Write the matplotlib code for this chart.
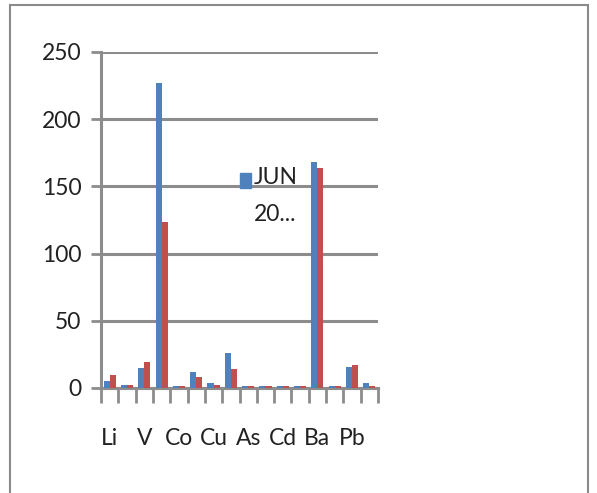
import numpy as np
import matplotlib.pyplot as plt
from matplotlib.patches import Rectangle

plt.rcParams['font.family'] = ['Lato', 'DejaVu Sans']

# elements along the x axis (only every other one is labelled in the chart)
elements = ['Li', 'Be', 'V', 'Cr', 'Co', 'Ni', 'Cu', 'Zn',
            'As', 'Se', 'Cd', 'Sb', 'Ba', 'Tl', 'Pb', 'U']
jun = [5.4, 2, 14.6, 227, 1.5, 12, 3.5, 25.8, 1.5, 1.5, 1.5, 1.5, 168, 1.5, 15.8, 3.5]
other = [9.6, 2, 19.5, 123.5, 1.5, 8.4, 2, 13.9, 1.5, 1.5, 1.5, 1.5, 163.5, 1.5, 17, 1.5]
legend_label = 'JUN\n20...'

blue = '#4F81BD'
red = '#C0504D'
grey = '#8C8C8C'

fig = plt.figure(figsize=(5.97, 4.93), dpi=100)
# outer chart border
fig.patches.append(Rectangle((10 / 597, -0.05), 578 / 597, 1 - 5 / 493 + 0.05,
                             transform=fig.transFigure, fill=False,
                             edgecolor='#8A8A8A', lw=1.5))

ax = fig.add_axes([101 / 597, 1 - 388 / 493, 277 / 597, 336 / 493])
x = np.arange(len(elements))
w = 0.35
ax.bar(x - w / 2, jun, w, color=blue, zorder=3)
ax.bar(x + w / 2, other, w, color=red, zorder=3)

ax.set_xlim(-0.5, len(elements) - 0.5)
ax.set_ylim(0, 250)
ax.set_yticks(range(0, 251, 50))
ax.yaxis.grid(True, color=grey, lw=2.2)
ax.set_axisbelow(True)

# tick marks at category boundaries, labels at every other category
ax.set_xticks(np.arange(-0.5, len(elements), 1))
ax.set_xticklabels([])
ax.set_xticks(x[::2], minor=True)
ax.set_xticklabels(elements[::2], minor=True)
ax.tick_params(axis='x', which='major', length=11, width=2, color=grey, direction='out')
ax.tick_params(axis='x', which='minor', length=0, pad=29, labelsize=16.5, labelcolor='#222222')
ax.tick_params(axis='y', length=7, width=2, color=grey, labelsize=16.5,
               labelcolor='#222222', pad=7)

for s in ['top', 'right']:
    ax.spines[s].set_visible(False)
for s in ['left', 'bottom']:
    ax.spines[s].set_color(grey)
    ax.spines[s].set_linewidth(2.2)

# truncated legend, as in the original
fig.patches.append(Rectangle((240 / 597, 1 - 188 / 493), 11 / 597, 15 / 493,
                             transform=fig.transFigure, color=blue))
fig.text(254 / 597, 1 - 167 / 493, legend_label, fontsize=16.5, color='#222222',
         va='top', ha='left', linespacing=1.95)

fig.savefig('out.png', dpi=100)
